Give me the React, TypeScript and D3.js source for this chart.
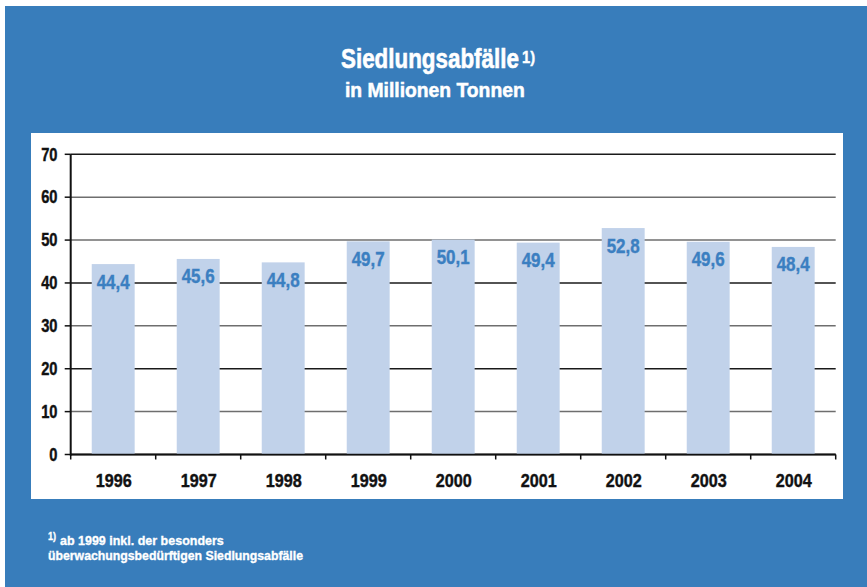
import React from "react";
import * as d3 from "d3";

const years = ["1996", "1997", "1998", "1999", "2000", "2001", "2002", "2003", "2004"];
const values = [44.4, 45.6, 44.8, 49.7, 50.1, 49.4, 52.8, 49.6, 48.4];
const yTicks = [0, 10, 20, 30, 40, 50, 60, 70];
const darkGridTicks = [0, 20, 40, 70];
const titleText = "Siedlungsabfälle";
const titleSup = "1)";
const subtitleText = "in Millionen Tonnen";
const footSup = "1)";
const footLine1 = "ab 1999 inkl. der besonders";
const footLine2 = "überwachungsbedürftigen Siedlungsabfälle";

const W = 867;
const H = 587;
const FONT = '"Liberation Sans", Arial, sans-serif';
const BLUE = "#387dbb";
const BAR = "#c1d2ea";
const LABEL = "#3b7fc1";

type TProps = {
  x: number;
  y: number;
  sx: number;
  size: number;
  fill: string;
  anchor?: "start" | "middle" | "end";
  dy?: string;
  heavy?: number;
  children: React.ReactNode;
};

function T({ x, y, sx, size, fill, anchor = "start", dy, heavy = 0.4, children }: TProps) {
  return (
    <text
      transform={`translate(${x},${y}) scale(${sx},1)`}
      textAnchor={anchor}
      dy={dy}
      fill={fill}
      stroke={fill}
      strokeWidth={heavy}
      fontFamily={FONT}
      fontWeight="bold"
      fontSize={size}
    >
      {children}
    </text>
  );
}

export default function App() {
  const left = 70.7;
  const right = 835.7;
  const top = 154.3;
  const bottom = 454.5;

  const x = d3.scaleBand<string>().domain(years).range([left, right]).paddingInner(0.495).paddingOuter(0.2475);
  const y = d3.scaleLinear().domain([0, 70]).range([bottom, top]);
  const fmt = (v: number) => v.toFixed(1).replace(".", ",");
  const tickEdges = d3.range(years.length + 1).map((i) => left + (i * (right - left)) / years.length);
  const cx = (yr: string) => (x(yr) as number) + x.bandwidth() / 2;

  return (
    <svg width={W} height={H} style={{ position: "absolute", left: 0, top: 0, display: "block" }}>
      <rect x={0} y={0} width={W} height={H} fill="#ffffff" />
      <rect x={5} y={6} width={W - 5} height={H - 6} fill={BLUE} />
      <rect x={31} y={133} width={812} height={366} fill="#ffffff" />

      <T x={341} y={68.3} sx={0.8} size={28} fill="#fff" heavy={0.6}>{titleText}</T>
      <T x={522} y={63.3} sx={0.92} size={16} fill="#fff">{titleSup}</T>
      <T x={345} y={97.3} sx={0.99} size={19.5} fill="#fff" heavy={0.5}>{subtitleText}</T>

      {yTicks.map((t) => (
        <g key={t}>
          <line
            x1={left}
            x2={right}
            y1={y(t)}
            y2={y(t)}
            stroke={darkGridTicks.includes(t) ? "#1a1a1a" : "#6e6e6e"}
            strokeWidth={t === 0 ? 2 : 1.5}
          />
          <line x1={left - 6} x2={left} y1={y(t)} y2={y(t)} stroke="#111" strokeWidth={1.5} />
          <T x={57.5} y={y(t)} dy="0.36em" sx={0.84} size={17.5} fill="#111" anchor="end">{t}</T>
        </g>
      ))}

      {years.map((yr, i) => (
        <rect key={yr} x={x(yr)} y={y(values[i])} width={x.bandwidth()} height={bottom - y(values[i])} fill={BAR} />
      ))}

      <line x1={left} x2={left} y1={top} y2={bottom + 1} stroke="#111" strokeWidth={2} />
      <line x1={left} x2={right} y1={bottom} y2={bottom} stroke="#111" strokeWidth={1.5} />
      {tickEdges.map((tx, i) => (
        <line key={i} x1={tx} x2={tx} y1={bottom} y2={bottom + 5} stroke="#111" strokeWidth={1.5} />
      ))}

      {years.map((yr) => (
        <T key={yr} x={cx(yr) + 0.5} y={487} sx={0.9} size={18} fill="#111" anchor="middle">{yr}</T>
      ))}

      {years.map((yr, i) => (
        <T key={yr} x={cx(yr)} y={y(values[i]) + 24.5} sx={0.87} size={19.5} fill={LABEL} anchor="middle">
          {fmt(values[i])}
        </T>
      ))}

      <T x={48} y={540} sx={0.92} size={10} fill="#fff" heavy={0.3}>{footSup}</T>
      <T x={60} y={545} sx={0.925} size={13.5} fill="#fff" heavy={0.35}>{footLine1}</T>
      <T x={48} y={560} sx={0.91} size={13.5} fill="#fff" heavy={0.35}>{footLine2}</T>
    </svg>
  );
}
